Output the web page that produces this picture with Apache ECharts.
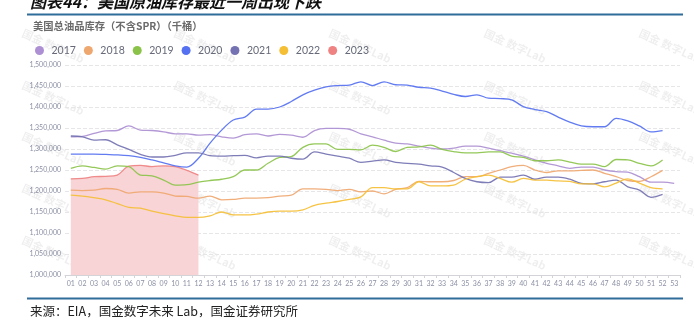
<!DOCTYPE html>
<html><head><meta charset="utf-8">
<script src="https://cdn.jsdelivr.net/npm/echarts@6/dist/echarts.min.js"></script>
<style>html,body{margin:0;padding:0;background:#fff}#c{width:694px;height:322px}</style>
</head><body><div id="c"></div>
<script>
const weeks = ['01','02','03','04','05','06','07','08','09','10','11','12','13','14','15','16','17','18','19','20','21','22','23','24','25','26','27','28','29','30','31','32','33','34','35','36','37','38','39','40','41','42','43','44','45','46','47','48','49','50','51','52','53'];
const years = ['2017','2018','2019','2020','2021','2022','2023'];
const y2017 = [1329000,1330000,1337000,1343000,1344000,1355000,1345000,1344000,1341000,1336000,1336000,1333000,1334000,1329000,1326000,1334000,1336000,1331000,1335000,1333000,1328000,1344000,1349000,1349000,1347000,1336000,1329000,1321000,1314000,1312000,1307000,1302000,1300000,1302000,1307000,1307000,1302000,1296000,1290000,1283000,1274000,1266000,1260000,1254000,1257000,1257000,1250000,1246000,1245000,1234000,1221000,1221000,1218000];
const y2018 = [1202000,1201000,1202000,1206000,1204000,1195000,1198000,1198000,1195000,1188000,1187000,1183000,1188000,1179000,1180000,1183000,1183000,1184000,1188000,1190000,1205000,1205000,1204000,1201000,1204000,1198000,1200000,1193000,1204000,1208000,1223000,1222000,1222000,1225000,1234000,1234000,1242000,1250000,1258000,1261000,1250000,1244000,1248000,1248000,1249000,1250000,1242000,1234000,1225000,1223000,1234000,1249000];
const y2019 = [1254000,1260000,1256000,1252000,1260000,1258000,1238000,1236000,1226000,1214000,1215000,1221000,1225000,1228000,1234000,1250000,1250000,1266000,1280000,1282000,1304000,1312000,1312000,1299000,1299000,1298000,1309000,1304000,1294000,1304000,1305000,1309000,1299000,1294000,1291000,1291000,1293000,1293000,1283000,1280000,1272000,1272000,1274000,1269000,1264000,1264000,1258000,1275000,1274000,1266000,1260000,1274000];
const y2020 = [1288000,1288000,1288000,1287000,1286000,1284000,1280000,1274000,1267000,1260000,1257000,1278000,1314000,1345000,1369000,1376000,1395000,1395000,1400000,1413000,1429000,1440000,1448000,1451000,1452000,1460000,1451000,1460000,1453000,1452000,1447000,1445000,1438000,1430000,1425000,1429000,1421000,1420000,1417000,1401000,1394000,1389000,1376000,1364000,1355000,1353000,1353000,1373000,1367000,1355000,1341000,1344000];
const y2021 = [1331000,1329000,1321000,1322000,1310000,1299000,1287000,1281000,1281000,1285000,1291000,1291000,1284000,1283000,1284000,1285000,1279000,1283000,1283000,1278000,1276000,1293000,1288000,1283000,1278000,1268000,1271000,1274000,1268000,1266000,1264000,1260000,1257000,1244000,1230000,1222000,1220000,1233000,1233000,1238000,1228000,1233000,1233000,1228000,1218000,1217000,1222000,1226000,1210000,1202000,1185000,1192000];
const y2022 = [1190000,1188000,1184000,1179000,1170000,1161000,1159000,1152000,1146000,1141000,1137000,1137000,1141000,1150000,1143000,1143000,1145000,1150000,1152000,1152000,1155000,1166000,1171000,1175000,1180000,1186000,1208000,1208000,1205000,1205000,1222000,1212000,1212000,1214000,1228000,1234000,1238000,1230000,1221000,1230000,1226000,1226000,1224000,1223000,1217000,1217000,1210000,1219000,1229000,1219000,1208000,1205000];
const y2023 = [1229000,1230000,1234000,1235000,1238000,1259000,1261000,1258000,1260000,1258000,1249000,1238000];

const colors = ['#ad8fd3','#efa770','#8bc34a','#5570f0','#7472b2','#f5bf35','#ef8282'];
const values = [y2017,y2018,y2019,y2020,y2021,y2022,y2023];
const NUMF = 'Lato, "Noto Sans", sans-serif';

const chart = echarts.init(document.getElementById('c'), null, {renderer:'canvas'});

const series = years.map((y,i)=>{
  const s = {
    name: y, type: 'line', data: values[i], smooth: 0.35,
    showSymbol: false, symbol: 'circle',
    lineStyle: {width: 1.3, color: colors[i], opacity: 0.92},
    itemStyle: {color: colors[i]},
    z: 3
  };
  if (y === '2023') {
    s.areaStyle = {color: '#f8d4d6', opacity: 1};
    s.z = 1;
  }
  return s;
});

const wm = [];
const wmX = [53, 205, 360, 515, 670];
const wmY = [46, 98, 149, 201, 253];
wmX.forEach(x => wmY.forEach(y => {
  wm.push({type:'text', x:x, y:y, rotation:-0.42, z:-1,
    style:{text:'国金 数字Lab', fill:'rgba(0,0,0,0.065)', font:'bold 11px "Noto Sans CJK SC", sans-serif', align:'center', verticalAlign:'middle'}});
}));

chart.setOption({
  animation: false,
  color: colors,
  grid: {left: 65, right: 14, top: 65, bottom: 47, containLabel: false},
  legend: {
    data: years, left: 30, top: 40, icon: 'circle',
    itemWidth: 14, itemHeight: 9, itemGap: 8,
    textStyle: {fontSize: 10.5, color: '#666a78', fontFamily: NUMF}
  },
  xAxis: {
    type: 'category', data: weeks, boundaryGap: true,
    axisLine: {lineStyle: {color: '#d4d4d8'}},
    axisTick: {show: true, length: 3, lineStyle: {color: '#d4d4d8'}},
    axisLabel: {fontSize: 7, color: '#8c90a4', margin: 5, interval: 0, fontFamily: NUMF}
  },
  yAxis: {
    type: 'value', min: 1000000, max: 1500000, interval: 50000,
    axisLine: {show: false}, axisTick: {show: false},
    axisLabel: {fontSize: 7, color: '#8c90a4', margin: 4, fontFamily: NUMF,
      formatter: v => v.toLocaleString('en-US')},
    splitLine: {lineStyle: {color: '#e6e6e9', type: 'dashed'}}
  },
  graphic: [
    {type:'text', x:30, y:10, style:{text:'图表44：美国原油库存最近一周出现下跌', fill:'#111', font:'italic bold 16px "Noto Sans CJK SC", sans-serif', verticalAlign:'bottom'}},
    {type:'line', shape:{x1:27, y1:14.5, x2:683, y2:14.5}, style:{stroke:'#2f6d9b', lineWidth:1.8}},
    {type:'text', x:33, y:26, style:{text:'美国总油品库存（不含SPR）（千桶）', fill:'#6b6b6b', font:'bold 10.3px "Noto Sans CJK SC", sans-serif', verticalAlign:'middle'}},
    {type:'line', shape:{x1:27, y1:298.5, x2:683, y2:298.5}, style:{stroke:'#2f6d9b', lineWidth:1.8}},
    {type:'text', x:30, y:311, style:{text:'来源：EIA，国金数字未来 Lab，国金证券研究所', fill:'#222', font:'12.5px "Noto Sans CJK SC", sans-serif', verticalAlign:'middle'}},
    ...wm
  ],
  series: series
});
</script>
</body></html>
